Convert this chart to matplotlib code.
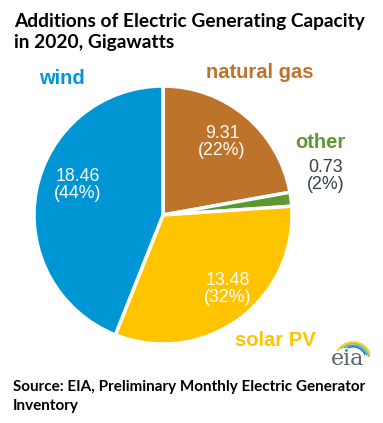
import matplotlib.pyplot as plt
from matplotlib.patches import Arc

# data
categories = ['natural gas', 'other', 'solar PV', 'wind']
capacity_gw = [9.31, 0.73, 13.48, 18.46]
colors = ['#BD732A', '#5E9732', '#FFC300', '#0096D6']

W, H = 383, 423

def px(x, y):
    # pixel position (from top-left) -> figure fraction
    return x / W, 1 - y / H

fig = plt.figure(figsize=(W / 100, H / 100), dpi=100)

# pie axes, center ~ (163, 215) px, radius ~128 px
cx, cy, r = 163, 215, 129
ax = fig.add_axes([(cx - r) / W, 1 - (cy + r) / H, 2 * r / W, 2 * r / H])
ax.pie(capacity_gw, colors=colors, startangle=90, counterclock=False,
       wedgeprops=dict(edgecolor='white', linewidth=2.5))
ax.set_xlim(-1, 1)
ax.set_ylim(-1, 1)
ax.set_aspect('auto')
ax.axis('off')

total = sum(capacity_gw)
pct = [round(v / total * 100) for v in capacity_gw]

# category labels
name_pos = [(260, 73), (320, 143), (275, 340), (62, 78)]
for name, c, (x, y) in zip(categories, colors, name_pos):
    fig.text(*px(x, y), name, color=c, fontsize=14.5, fontweight='bold',
             family='Liberation Sans', ha='center', va='center')

# value labels
val_pos = [(222, 142), (326, 176), (228, 289), (78, 185)]
val_col = ['white', '#333F50', 'white', 'white']
for v, p, c, (x, y) in zip(capacity_gw, pct, val_col, val_pos):
    fig.text(*px(x, y), '%.2f\n(%d%%)' % (v, p), color=c, fontsize=12.8,
             family='Liberation Sans', ha='center', va='center', linespacing=1.05)

# title and source, one line at a time
fig.text(*px(14, 27), 'Additions of Electric Generating Capacity',
         fontsize=13.8, fontweight='bold', family='Lato', ha='left', va='baseline')
fig.text(*px(14, 48), 'in 2020, Gigawatts',
         fontsize=13.8, fontweight='bold', family='Lato', ha='left', va='baseline')
fig.text(*px(13, 391), 'Source: EIA, Preliminary Monthly Electric Generator',
         fontsize=11, fontweight='bold', family='Lato', ha='left', va='baseline')
fig.text(*px(13, 410), 'Inventory',
         fontsize=11, fontweight='bold', family='Lato', ha='left', va='baseline')

# eia logo
fig.text(*px(348, 359), 'eia', color='#5A6670', fontsize=16, family='DejaVu Serif',
         ha='center', va='center')
lax = fig.add_axes([330 / W, 1 - 362 / H, 40 / W, 24 / H])
lax.set_xlim(0, 40)
lax.set_ylim(0, 24)
lax.axis('off')
for i, c in enumerate(['#FFC300', '#8DC63F', '#3AA0D8', '#0072BC']):
    rad = 18 - i * 1.6
    lax.add_patch(Arc((23, 2), 2 * rad, 2 * rad, theta1=5 + i * 6, theta2=150 - i * 12,
                      color=c, lw=1.0))

fig.savefig('out.png', dpi=100, facecolor='white')
